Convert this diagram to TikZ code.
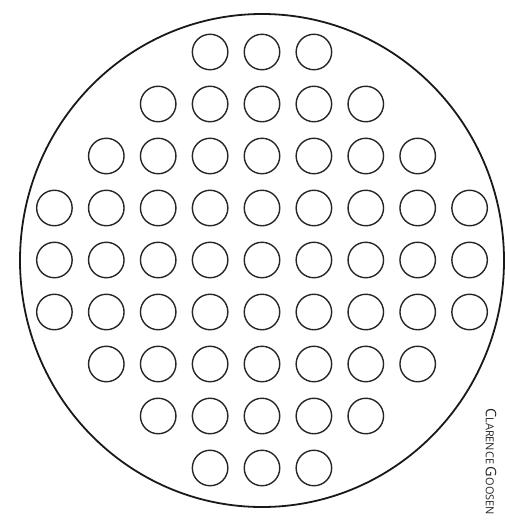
\documentclass[tikz,border=0pt]{standalone}
\usepackage{fontspec}
\setmainfont{Open Sans}
\usetikzlibrary{shapes.geometric}
\begin{document}
\begin{tikzpicture}[x=1pt,y=-1pt,
  hole/.style={circle,draw=black!85,line width=1.4pt,minimum size=35.5pt,inner sep=0pt},
  plate/.style={ellipse,draw=black!90,line width=1.8pt,minimum width=484pt,minimum height=493pt,inner sep=0pt},
  credit/.style={rotate=-90,anchor=west,inner sep=0pt,text=black!85}]
\useasboundingbox (0,0) rectangle (505,520);
\node[plate] (plate) at (262,260.5) {};
% rows: number of holes per row
\foreach \r/\n in {0/3,1/5,2/7,3/9,4/9,5/9,6/7,7/5,8/3}{
  \pgfmathtruncatemacro{\h}{(\n-1)/2}
  \foreach \c in {-\h,...,\h}{
    \node[hole] (h-\r-\c) at ({262+51.9*\c},{52+52*\r}) {};
  }
}
\node[credit] (credit) at (491,408) {{\fontsize{14.5}{15}\selectfont C}{\fontsize{11}{12}\selectfont LARENCE} {\fontsize{14.5}{15}\selectfont G}{\fontsize{11}{12}\selectfont OOSEN}};
\end{tikzpicture}
\end{document}
